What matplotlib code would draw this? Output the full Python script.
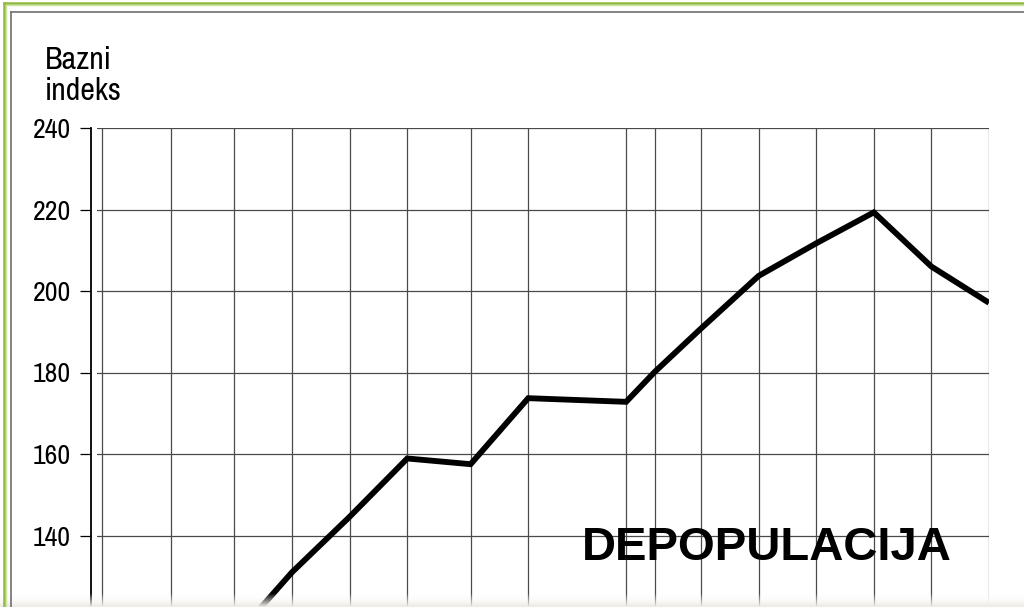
import matplotlib
matplotlib.use("Agg")

import matplotlib.pyplot as plt
from matplotlib import font_manager as fm
from matplotlib.lines import Line2D
import numpy as np


# Census years and base index (1857 = 100)
years = [1857, 1869, 1880, 1890, 1900, 1910, 1921, 1931, 1948,
         1953, 1961, 1971, 1981, 1991, 2001, 2011]
index = [100, 110, 115, 131, 144.6, 158.9, 157.5, 173.7, 172.8,
         180.2, 190.8, 203.7, 211.7, 219.3, 206, 197.1]

y_ticks = [120, 140, 160, 180, 200, 220, 240]


# pick an upright narrow face if one is installed
narrow = fm.FontProperties(family="Liberation Sans")
for f in fm.fontManager.ttflist:
    if "Narrow" in f.name and f.style == "normal" and f.weight in (400, "normal", "regular"):
        narrow = fm.FontProperties(fname=f.fname)
        break
else:
    cand = fm.findfont(fm.FontProperties(family="DejaVu Sans", stretch="condensed"))
    if "Condensed" in cand:
        narrow = fm.FontProperties(fname=cand)

W, H = 1024, 607
fig = plt.figure(figsize=(W / 100, H / 100), dpi=100)
fig.patch.set_facecolor("white")


def px(x, y):
    return x / W, 1 - y / H


# axes placed so the bottom runs off the picture
left, right = 96.8, 989
top, bottom = 128, 128 + 140 * 4.075
ax = fig.add_axes([left / W, 1 - bottom / H, (right - left) / W, (bottom - top) / H])

ax.plot(years, index, color="black", lw=4.2, solid_joinstyle="miter",
        solid_capstyle="butt", zorder=3)

ax.set_xlim(1856.1, 2011)
ax.set_ylim(100, 240)

ax.set_xticks(years)
ax.set_yticks(y_ticks)
ax.grid(True, color="#4a4a4a", lw=0.9)
ax.set_axisbelow(True)

for s in ["top", "right", "bottom"]:
    ax.spines[s].set_visible(False)
ax.spines["left"].set_position(("outward", 4.3))
ax.spines["left"].set_linewidth(1.3)

ax.tick_params(axis="x", length=0, labelbottom=False)
ax.tick_params(axis="y", direction="out", length=8, width=0.9, pad=6.5)
for lab in ax.get_yticklabels():
    lab.set_fontproperties(narrow)
    lab.set_fontsize(20)

# axis caption
fig.text(*px(45, 69), "Bazni", fontproperties=narrow, fontsize=23, ha="left", va="baseline")
fig.text(*px(45, 100), "indeks", fontproperties=narrow, fontsize=23, ha="left", va="baseline")

fig.text(*px(582, 560), "DEPOPULACIJA", family=["Liberation Sans", "DejaVu Sans"],
         fontsize=34, fontweight="bold", ha="left", va="baseline", zorder=5)

# slide frame
fig.add_artist(Line2D([4 / W, 4 / W], [0, 1 - 3 / H], color="#8fba3f", lw=1.8))
fig.add_artist(Line2D([4 / W, 1], [1 - 3 / H, 1 - 3 / H], color="#8fba3f", lw=1.8))
fig.add_artist(Line2D([6 / W, 6 / W], [0, 1 - 5 / H], color="#cfe3a3", lw=1))
fig.add_artist(Line2D([6 / W, 1], [1 - 5 / H, 1 - 5 / H], color="#cfe3a3", lw=1))
fig.add_artist(Line2D([11 / W, 11 / W], [0, 1 - 12 / H], color="#707070", lw=1.2))
fig.add_artist(Line2D([11 / W, 1], [1 - 12 / H, 1 - 12 / H], color="#707070", lw=1.2))

# faded band at the bottom edge
band = fig.add_axes([0, 0, 1, 14 / H])
grad = np.linspace(0, 1, 50).reshape(-1, 1)
band.imshow(grad, aspect="auto", origin="upper", extent=[0, 1, 0, 1],
            cmap=matplotlib.colors.LinearSegmentedColormap.from_list(
                "band", [(1, 1, 1, 0), (0.93, 0.92, 0.89, 1)]))
band.set_axis_off()

fig.savefig("out.png", dpi=100)
